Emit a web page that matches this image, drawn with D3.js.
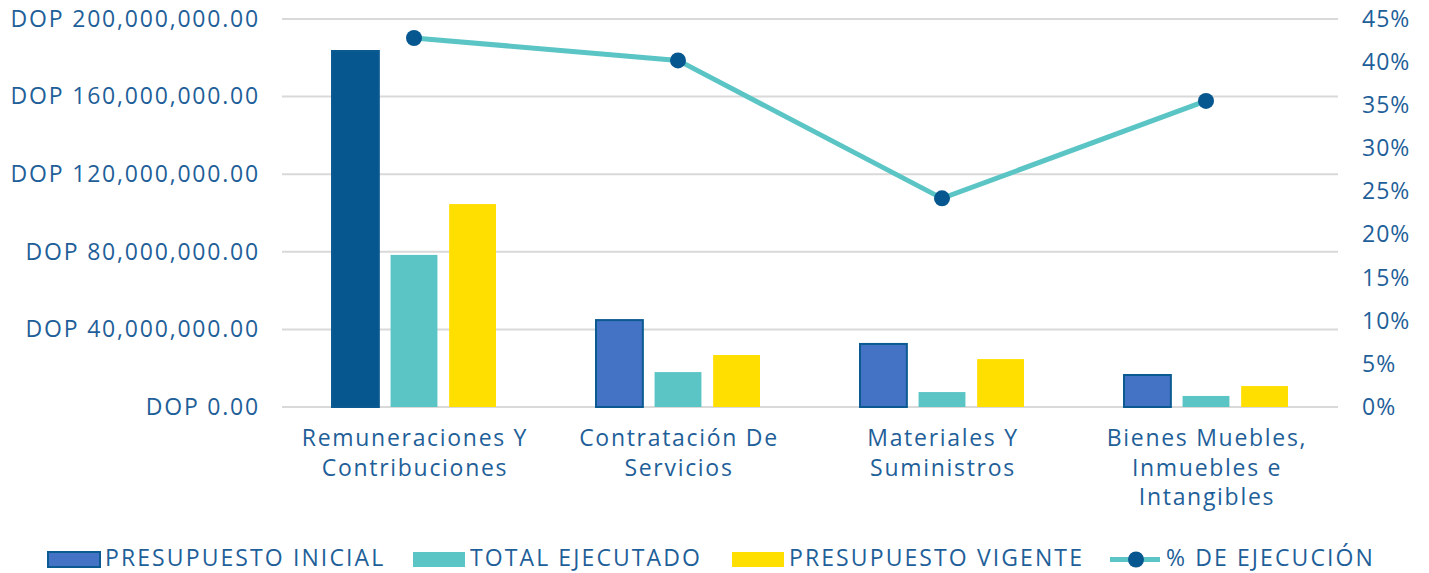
<!DOCTYPE html>
<html>
<head>
<meta charset="utf-8">
<script src="https://cdn.jsdelivr.net/npm/d3@7"></script>
<style>
  body { margin: 0; background: #fff; }
  text { font-family: "Open Sans", sans-serif; fill: #1f5f99; }
</style>
</head>
<body>
<svg id="chart" width="1429" height="573"></svg>
<script>
// data
const categories = [
  ["Remuneraciones Y", "Contribuciones"],
  ["Contratación De", "Servicios"],
  ["Materiales Y", "Suministros"],
  ["Bienes Muebles,", "Inmuebles e", "Intangibles"]
];
const presupuestoInicial = [183500000, 44800000, 32500000, 16500000];
const totalEjecutado = [78400000, 18000000, 7700000, 5700000];
const presupuestoVigente = [104600000, 26800000, 24700000, 10800000];
const pctEjecucion = [0.428, 0.402, 0.242, 0.355];
const leftTicks = [0, 40000000, 80000000, 120000000, 160000000, 200000000];
const rightTicks = [0, 0.05, 0.1, 0.15, 0.2, 0.25, 0.3, 0.35, 0.4, 0.45];

const seriesNames = ["PRESUPUESTO INICIAL", "TOTAL EJECUTADO", "PRESUPUESTO VIGENTE"];
const fills = ["#4472c4", "#5bc5c5", "#ffdf00"];
const lineColor = "#5bc5c5", dotColor = "#06578f";

const svg = d3.select("#chart");
const plotL = 282, plotR = 1338, plotT = 19, plotB = 407;

const idx = d3.range(categories.length);
const x = d3.scaleBand().domain(idx).range([plotL, plotR]);
const xs = d3.scaleBand().domain([0, 1, 2]).range([50, 214]).paddingInner(0.2);
const y = d3.scaleLinear().domain([0, 200000000]).range([plotB, plotT]);
const y2 = d3.scaleLinear().domain([0, 0.45]).range([plotB, plotT]);

// gridlines
svg.append("g").selectAll("line").data(leftTicks).join("line")
  .attr("x1", plotL).attr("x2", plotR)
  .attr("y1", d => y(d)).attr("y2", d => y(d))
  .attr("stroke", "#d9d9d9").attr("stroke-width", 2);

// left axis
const fmt = d3.format(",.2f");
const yAxis = d3.axisLeft(y).tickValues(leftTicks).tickSize(0).tickPadding(0)
  .tickFormat(d => "DOP " + fmt(d));
svg.append("g").attr("transform", "translate(260,0)").call(yAxis)
  .call(g => g.select(".domain").remove())
  .selectAll("text").style("font-size", "23px").style("letter-spacing", "1.8px").attr("fill", null);

// right axis
const y2Axis = d3.axisRight(y2).tickValues(rightTicks).tickSize(0).tickPadding(0)
  .tickFormat(d3.format(".0%"));
svg.append("g").attr("transform", "translate(1362,0)").call(y2Axis)
  .call(g => g.select(".domain").remove())
  .selectAll("text").style("font-size", "23px").style("letter-spacing", "1px").attr("fill", null);

// bars
const series = [presupuestoInicial, totalEjecutado, presupuestoVigente];
series.forEach((vals, s) => {
  svg.append("g").selectAll("rect").data(vals).join("rect")
    .attr("x", (d, i) => x(i) + xs(s))
    .attr("y", d => y(d))
    .attr("width", xs.bandwidth())
    .attr("height", d => plotB - y(d))
    .attr("fill", (d, i) => (s === 0 && i === 0) ? "#06578f" : fills[s])
    .attr("stroke", s === 0 ? "#0b5a92" : "none")
    .attr("stroke-width", s === 0 ? 2 : 0);
});

// line
const cx = i => x(i) + x.bandwidth() / 2;
svg.append("path").datum(pctEjecucion)
  .attr("fill", "none").attr("stroke", lineColor).attr("stroke-width", 5)
  .attr("d", d3.line().x((d, i) => cx(i)).y(d => y2(d)));
svg.append("g").selectAll("circle").data(pctEjecucion).join("circle")
  .attr("cx", (d, i) => cx(i)).attr("cy", d => y2(d)).attr("r", 8)
  .attr("fill", dotColor);

// category labels
const lab = svg.append("g").selectAll("text").data(categories).join("text")
  .attr("text-anchor", "middle").style("font-size", "23px").style("letter-spacing", "1.7px")
  .attr("x", (d, i) => cx(i) + 1).attr("y", 446);
lab.selectAll("tspan").data(d => d).join("tspan")
  .attr("x", function() { return this.parentNode.getAttribute("x"); })
  .attr("dy", (d, j) => j === 0 ? 0 : 29.5)
  .text(d => d);

// legend
const leg = svg.append("g");
const legX = [48, 413, 732];
seriesNames.forEach((n, s) => {
  leg.append("rect").attr("x", legX[s]).attr("y", 552).attr("width", 52).attr("height", 15)
    .attr("fill", fills[s])
    .attr("stroke", s === 0 ? "#0b5a92" : "none").attr("stroke-width", 2);
  leg.append("text").attr("x", legX[s] + 57).attr("y", 566)
    .style("font-size", "23px").style("letter-spacing", "2.1px").text(n);
});
leg.append("line").attr("x1", 1110).attr("x2", 1160).attr("y1", 559.5).attr("y2", 559.5)
  .attr("stroke", lineColor).attr("stroke-width", 5);
leg.append("circle").attr("cx", 1136).attr("cy", 559.5).attr("r", 8).attr("fill", dotColor);
leg.append("text").attr("x", 1166).attr("y", 566)
  .style("font-size", "23px").style("letter-spacing", "2.1px").text("% DE EJECUCIÓN");
</script>
</body>
</html>
